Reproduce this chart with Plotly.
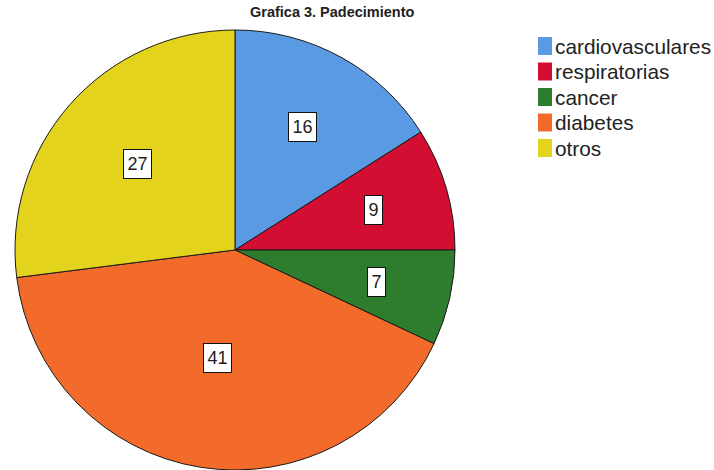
import math
import plotly.graph_objects as go

# Padecimiento counts (percent of respondents)
categories = ["cardiovasculares", "respiratorias", "cancer", "diabetes", "otros"]
values = [16, 9, 7, 41, 27]
colors = ["#5A9AE3", "#D20F33", "#2E7D2F", "#F26B2B", "#E3D31C"]

W, H = 714, 470
CX, CY, R = 235, 250, 220  # pie centre / radius in pixels

fig = go.Figure(
    go.Pie(
        labels=categories,
        values=values,
        sort=False,
        direction="clockwise",
        rotation=0,
        marker=dict(colors=colors, line=dict(color="#1a1a1a", width=1)),
        textinfo="none",
        hoverinfo="label+value",
        showlegend=False,
        domain=dict(x=[(CX - R) / W, (CX + R) / W],
                    y=[(H - CY - R) / H, (H - CY + R) / H]),
    )
)

# Boxed value labels placed at each sector's centroid
total = sum(values)
start = 0.0
annotations = []
for v in values:
    theta = 2 * math.pi * v / total
    mid = start + theta / 2
    d = 4 * R * math.sin(theta / 2) / (3 * theta)
    px = CX + d * math.sin(mid)
    py = CY - d * math.cos(mid)
    start += theta
    txt = str(v)
    annotations.append(dict(
        x=px / W, y=1 - py / H, xref="paper", yref="paper",
        text=txt, showarrow=False,
        font=dict(family="Liberation Sans, Arial", size=18, color="#1e1e1e"),
        bgcolor="white", bordercolor="#111", borderwidth=1,
        width=len(txt) * 10 + 5, height=26, borderpad=1,
        xanchor="center", yanchor="middle",
    ))

# Title
annotations.append(dict(
    x=332 / W, y=1 - 12 / H, xref="paper", yref="paper",
    text="<b>Grafica 3. Padecimiento</b>", showarrow=False,
    font=dict(family="Liberation Sans, Arial", size=14.5, color="#222"),
    xanchor="center", yanchor="middle",
))

# Legend: swatch + label per category
shapes = []
for i, (cat, col) in enumerate(zip(categories, colors)):
    yc = 46 + i * 25.5
    shapes.append(dict(
        type="rect", xref="paper", yref="paper",
        x0=538 / W, x1=552 / W, y0=1 - (yc + 9) / H, y1=1 - (yc - 9) / H,
        fillcolor=col, line=dict(color=col, width=0),
    ))
    annotations.append(dict(
        x=553 / W, y=1 - yc / H, xref="paper", yref="paper",
        text=cat, showarrow=False,
        font=dict(family="Liberation Sans, Arial", size=20.8, color="#222"),
        xanchor="left", yanchor="middle",
    ))

fig.update_layout(
    width=W, height=H,
    margin=dict(l=0, r=0, t=0, b=0),
    paper_bgcolor="white", plot_bgcolor="white",
    annotations=annotations, shapes=shapes,
)

fig.write_html("out.html")
